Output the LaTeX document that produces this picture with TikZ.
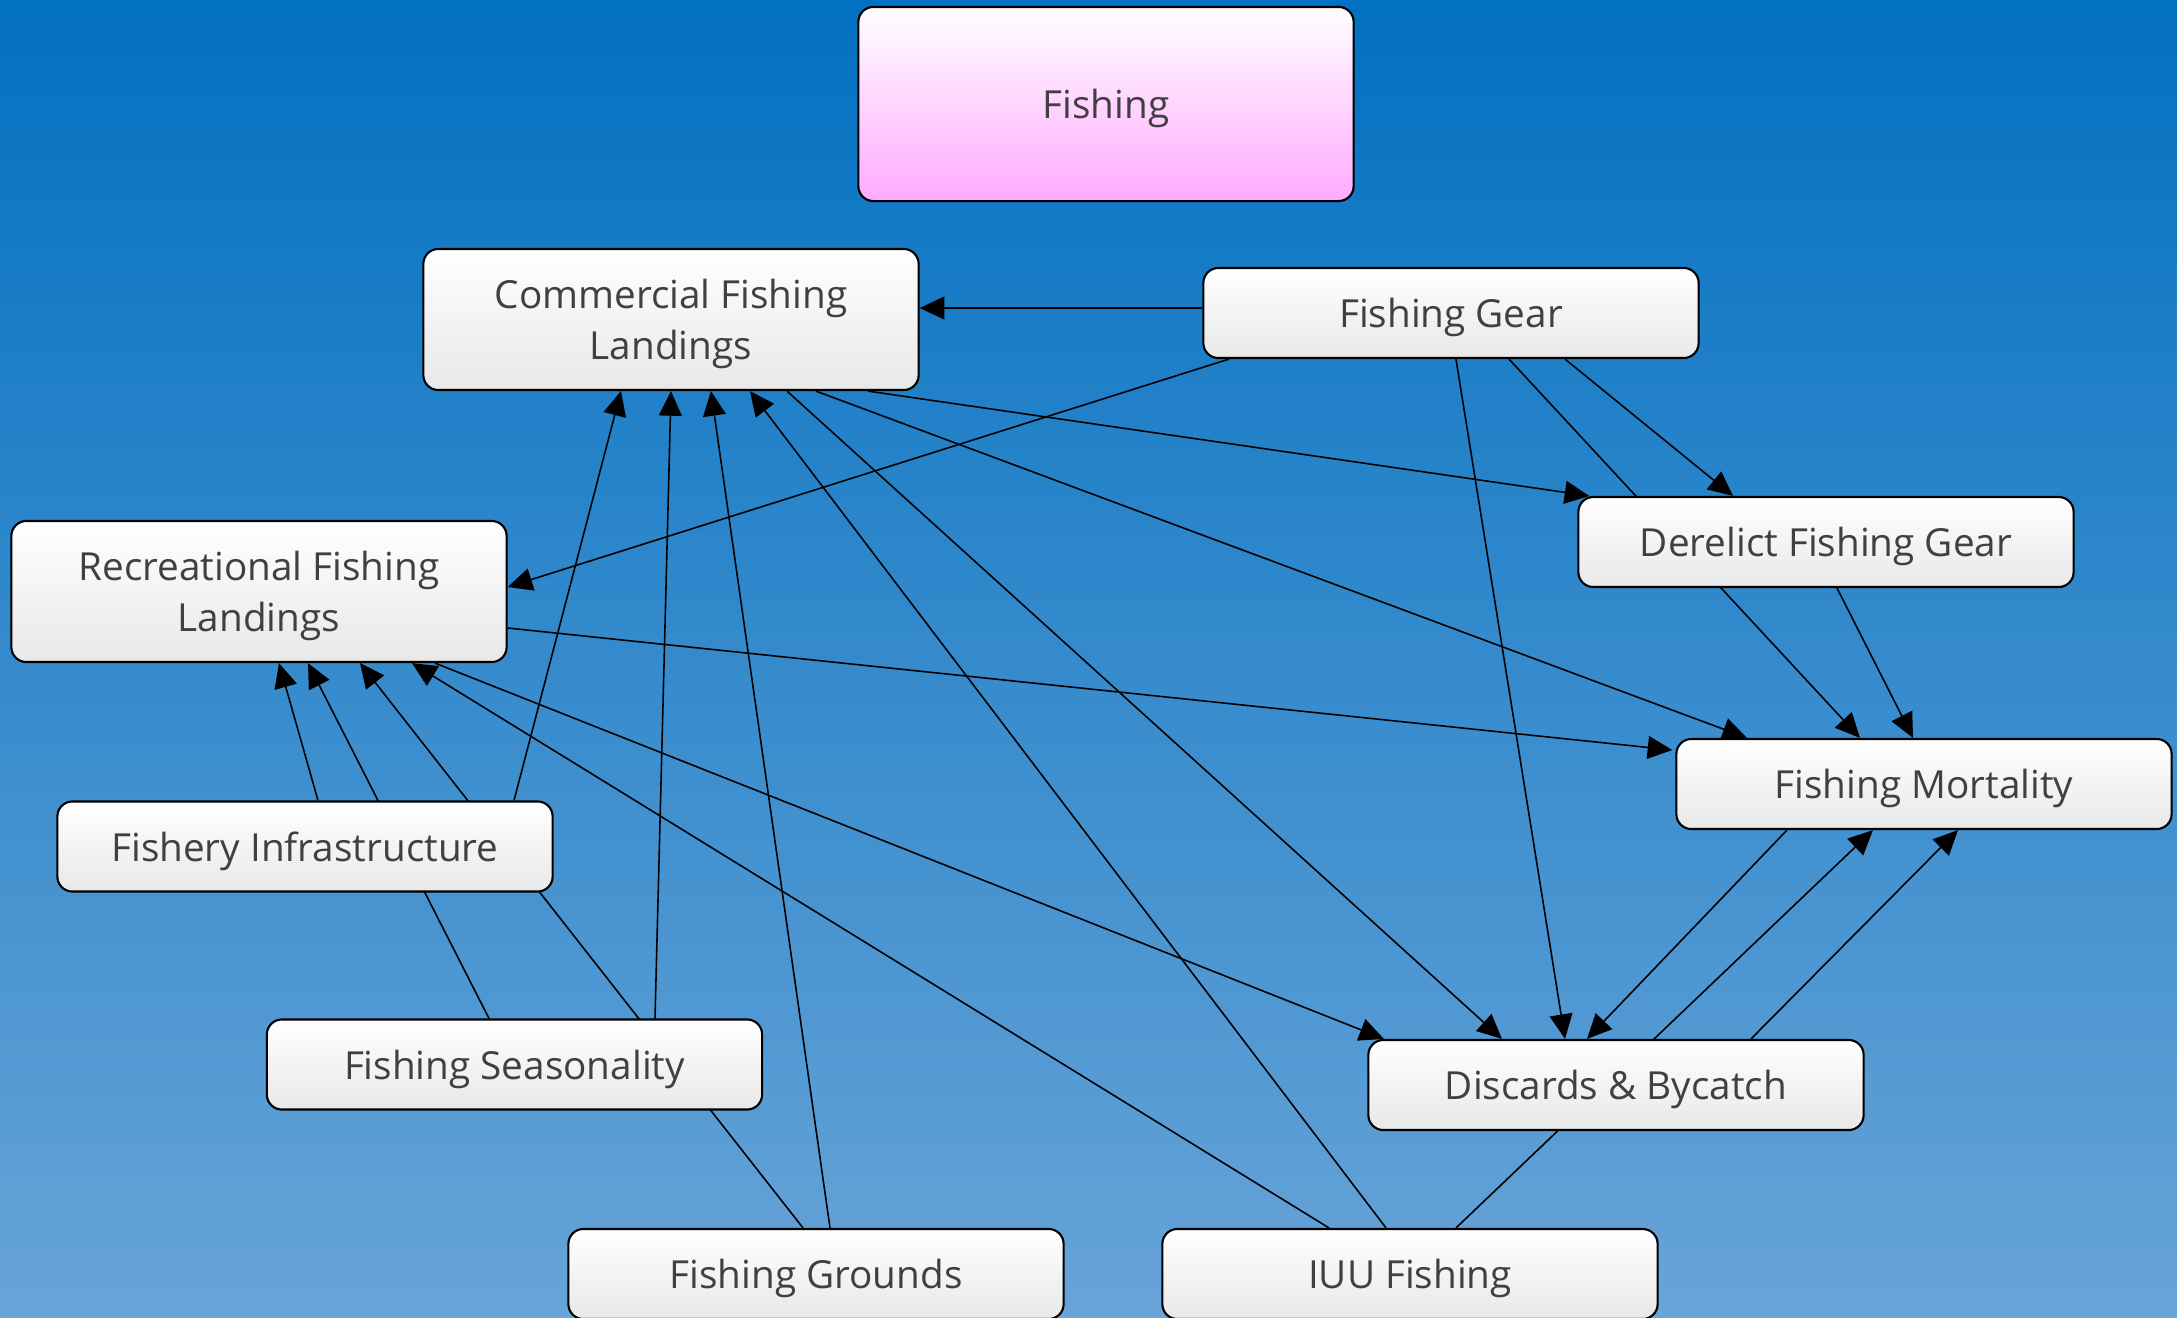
\documentclass[tikz,border=0pt]{standalone}
\usepackage{fontspec}
\setmainfont{Open Sans}
\usepackage{tikz}
\usetikzlibrary{arrows.meta,calc,positioning}
\tikzset{>={Triangle[length=7pt,width=6.5pt]}}
\definecolor{skytop}{RGB}{2,113,193}
\definecolor{skybot}{RGB}{104,164,216}
\definecolor{boxtxt}{RGB}{64,64,64}
\definecolor{boxpink}{RGB}{255,170,255}
\tikzstyle{factor} = [draw=black, line width=0.6pt, rounded corners=0.15cm, minimum width=4.95cm, minimum height=0.9cm, align=center, text depth=0pt, top color=white, bottom color=gray!18, text=boxtxt, font=\fontsize{11}{14.6}\selectfont]
\tikzstyle{link} = [->, line width=0.45pt]
\pgfdeclarelayer{bg}
\pgfdeclarelayer{edges}
\pgfsetlayers{bg,edges,main}

\begin{document}
\begin{tikzpicture}[x=0.01cm, y=-0.01cm]
    \useasboundingbox (0,0) rectangle (2177,1317);
    \begin{pgfonlayer}{bg}
        \shade[top color=skytop, bottom color=skybot] (0,0) rectangle (2177,1317);
    \end{pgfonlayer}

    \node [factor, minimum height=1.94cm, bottom color=boxpink](fishing) at (1106,104) {Fishing};
    \node [factor, minimum height=1.41cm](comm) at (671,319.5) {Commercial Fishing\\Landings};
    \node [factor](gear) at (1451,313) {Fishing Gear};
    \node [factor, minimum height=1.41cm](rec) at (259,591.5) {Recreational Fishing\\Landings};
    \node [factor](derelict) at (1826,542) {Derelict Fishing Gear};
    \node [factor](mort) at (1924,784) {Fishing Mortality};
    \node [factor](infra) at (305,846.5) {Fishery Infrastructure};
    \node [factor](season) at (514.5,1064.5) {Fishing Seasonality};
    \node [factor](discards) at (1616,1085) {Discards \& Bycatch};
    \node [factor](grounds) at (816,1274) {Fishing Grounds};
    \node [factor](iuu) at (1410,1274) {IUU Fishing};

    \begin{pgfonlayer}{edges}
    % fishing gear
    \draw [link] ($(gear.west)+(0,-5)$) -- ($(comm.east)+(0,-11.5)$);
    \draw [link] ($(gear.south)+(-222,0)$) -- ($(rec.east)+(0,-4.5)$);
    \draw [link] ($(gear.south)+(114,0)$) -- ($(derelict.north)+(-93,0)$);
    \draw [link] ($(gear.south)+(5,0)$) -- ($(discards.north)+(-51,0)$);
    \draw [link] ($(gear.south)+(58,0)$) -- ($(mort.north)+(-64,0)$);
    % landings
    \draw [link] ($(comm.south)+(197,0)$) -- ($(derelict.north west)+(12,0)$);
    \draw [link] ($(comm.south)+(145,0)$) -- ($(mort.north)+(-177,0)$);
    \draw [link] ($(comm.south)+(116,0)$) -- ($(discards.north)+(-114,0)$);
    \draw [link] ($(rec.east)+(0,36.5)$) -- ($(mort.west)+(-3,-34)$);
    \draw [link] ($(rec.south)+(176,0)$) -- ($(discards.north)+(-232,0)$);
    \draw [link] ($(derelict.south)+(11,0)$) -- ($(mort.north)+(-11,0)$);
    % lower left
    \draw [link] ($(infra.north)+(13,0)$) -- ($(rec.south)+(20,0)$);
    \draw [link] ($(infra.north)+(209,0)$) -- ($(comm.south)+(-50,0)$);
    \draw [link] ($(season.north)+(-25.5,0)$) -- ($(rec.south)+(49,0)$);
    \draw [link] ($(season.north)+(140.5,0)$) -- (comm.south);
    \draw [link] ($(grounds.north)+(-13,0)$) -- ($(rec.south)+(101,0)$);
    \draw [link] ($(grounds.north)+(14,0)$) -- ($(comm.south)+(40,0)$);
    % iuu
    \draw [link] ($(iuu.north)+(-81,0)$) -- ($(rec.south)+(153,0)$);
    \draw [link] ($(iuu.north)+(-24,0)$) -- ($(comm.south)+(79,0)$);
    \draw [link] ($(iuu.north)+(46,0)$) -- ($(mort.south)+(-51,0)$);
    % mortality and discards
    \draw [link] ($(mort.south)+(-137,0)$) -- ($(discards.north)+(-29,0)$);
    \draw [link] ($(discards.north)+(135,0)$) -- ($(mort.south)+(34,0)$);
    \end{pgfonlayer}
\end{tikzpicture}
\end{document}
